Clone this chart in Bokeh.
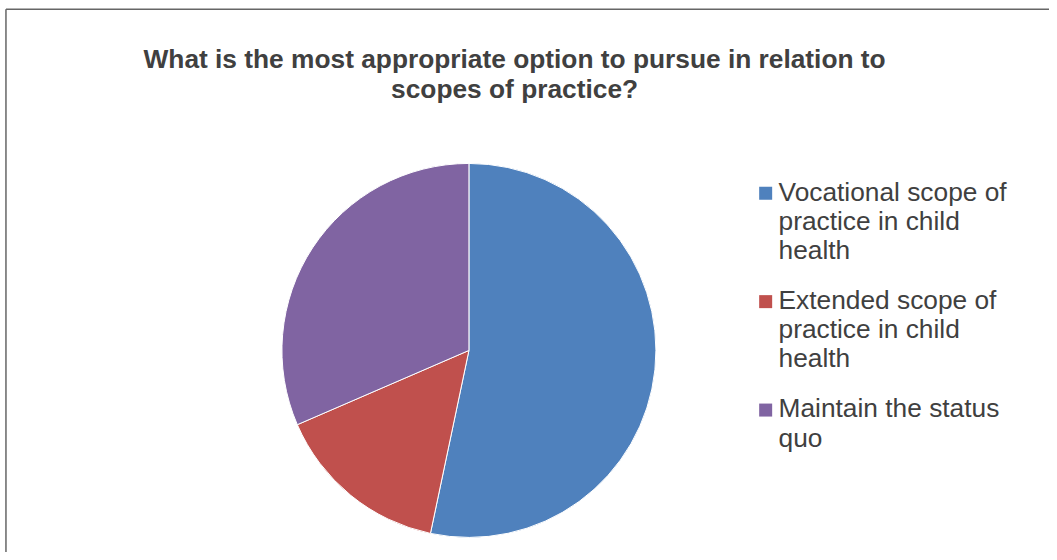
import textwrap
import numpy as np
from bokeh.plotting import figure
from bokeh.models import Range1d, ColumnDataSource
from bokeh.core.properties import value
from bokeh.embed import file_html
from bokeh.resources import INLINE

# ---- data ----
title_lines = ["What is the most appropriate option to pursue in relation to",
               "scopes of practice?"]
categories = ["Vocational scope of practice in child health",
              "Extended scope of practice in child health",
              "Maintain the status quo"]
shares = [53.3, 15.2, 31.5]
colors = ["#4F81BD", "#C0504D", "#8064A2"]

FONT = "Liberation Sans"
TEXT_COLOR = "#404040"
FS = "26.3px"

W, H = 1049, 552
KX, KY = W / 1057.0, H / 560.0
TXT_OFF = 10.0  # rendered text sits this far below requested baseline


def sx(rx):
    return rx * KX


def sy(ry):
    return H - ry * KY


p = figure(width=W, height=H, x_range=Range1d(0, W), y_range=Range1d(0, H),
           output_backend="svg", toolbar_location=None, min_border=0)
p.axis.visible = False
p.grid.visible = False
p.outline_line_color = None
p.background_fill_color = "white"
p.border_fill_color = "white"

# frame (left and top edges visible)
fx0, fy0 = sx(5.5), sy(9)
p.segment(x0=[fx0, fx0], y0=[fy0, fy0], x1=[fx0, W + 5], y1=[-5, fy0],
          line_color="#666666", line_width=1.5)

# ---- pie ----
vals = np.array(shares, dtype=float)
frac = vals / vals.sum()
cum = np.cumsum(frac)
prev = np.concatenate([[0.0], cum[:-1]])
start = np.pi / 2 - 2 * np.pi * prev
end = np.pi / 2 - 2 * np.pi * cum
src = ColumnDataSource(dict(start=start, end=end, color=colors, label=categories))
p.wedge(x=sx(472), y=sy(355), radius=187, start_angle="start", end_angle="end",
        direction="clock", fill_color="color", line_color="white", line_width=1,
        source=src)

# ---- title ----
for j, ry in enumerate([69.3, 100.0]):
    p.text(x=[sx(518)], y=[sy(ry) + TXT_OFF], text=[title_lines[j]], text_align="center",
           text_baseline="alphabetic", text_font=value(FONT), text_font_size=FS,
           text_font_style="bold", text_color=TEXT_COLOR)

# ---- legend ----
for i, (cat, col) in enumerate(zip(categories, colors)):
    p.rect(x=[sx(771)], y=[sy(195.5 + 110 * i)], width=13, height=13,
           fill_color=col, line_color=None)
    for j, line in enumerate(textwrap.wrap(cat, 19)):
        p.text(x=[sx(784)], y=[sy(204 + 110 * i + 29.5 * j) + TXT_OFF], text=[line],
               text_align="left", text_baseline="alphabetic", text_font=value(FONT),
               text_font_size=FS, text_color=TEXT_COLOR)

open("out.html", "w").write(file_html(p, INLINE))
